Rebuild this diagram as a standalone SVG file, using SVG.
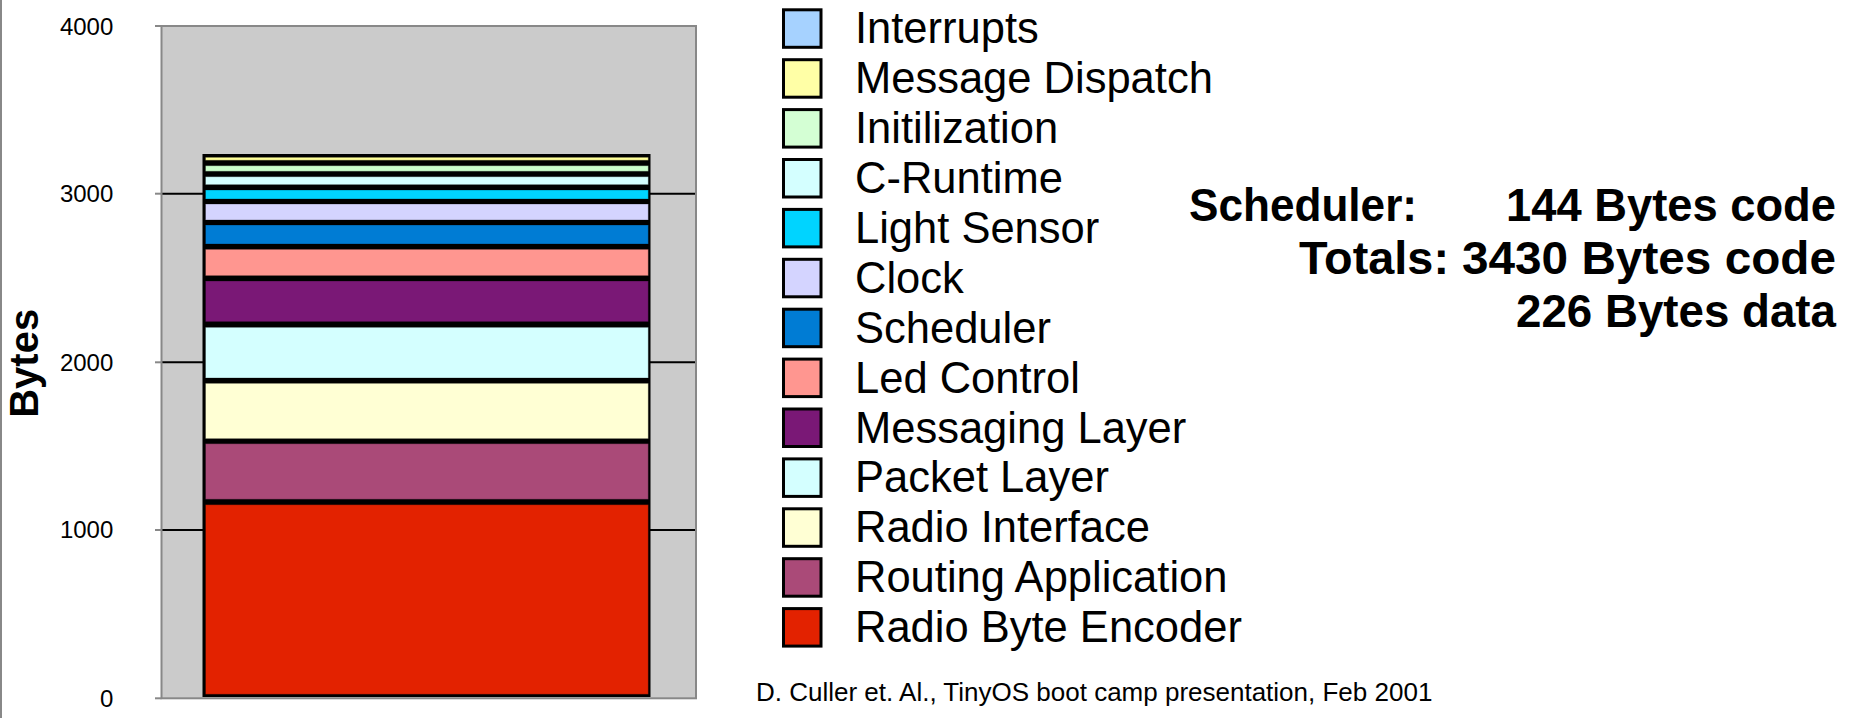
<svg xmlns="http://www.w3.org/2000/svg" width="1868" height="718" viewBox="0 0 1868 718">
  <style>
    .axis { stroke: #888888; stroke-width: 2; fill: none; }
    .grid { stroke: #000000; stroke-width: 2; }
    .tick { font-family: "Liberation Sans", Arial, sans-serif; font-size: 24px; fill: #000; text-anchor: end; }
    .ytitle { font-family: "Liberation Sans", Arial, sans-serif; font-size: 40px; font-weight: bold; fill: #000; text-anchor: middle; }
    .seg { stroke: rgba(0,0,0,0.28); stroke-width: 1; }
    .key { stroke: #000; stroke-width: 3; }
    .lbl { font-family: "Liberation Sans", Arial, sans-serif; font-size: 43.5px; fill: #000; }
    .stat { font-family: "Liberation Sans", Arial, sans-serif; font-size: 46px; font-weight: bold; fill: #000; }
    .note { font-family: "Liberation Sans", Arial, sans-serif; font-size: 26px; fill: #000; }
  </style>

  <rect width="1868" height="718" fill="#ffffff"/>
  <!-- left page edge -->
  <line x1="1" y1="0" x2="1" y2="718" class="axis" stroke-width="1.5"/>

  <!-- plot area -->
  <g id="plot">
    <rect x="161.5" y="26" width="534.5" height="672.3" fill="#cbcbcb"/>
    <line x1="161.5" y1="530" x2="696" y2="530" class="grid"/>
    <line x1="161.5" y1="362.3" x2="696" y2="362.3" class="grid"/>
    <line x1="161.5" y1="193.7" x2="696" y2="193.7" class="grid"/>
    <rect x="161.5" y="26" width="534.5" height="672.3" class="axis"/>
    <g class="axis">
      <line x1="155" y1="26" x2="161.5" y2="26"/>
      <line x1="155" y1="193.7" x2="161.5" y2="193.7"/>
      <line x1="155" y1="362.3" x2="161.5" y2="362.3"/>
      <line x1="155" y1="530" x2="161.5" y2="530"/>
      <line x1="155" y1="698.3" x2="161.5" y2="698.3"/>
    </g>
    <text class="tick" x="113.3" y="34.5">4000</text>
    <text class="tick" x="113.3" y="202.3">3000</text>
    <text class="tick" x="113.3" y="370.6">2000</text>
    <text class="tick" x="113.3" y="538.4">1000</text>
    <text class="tick" x="113.3" y="706.7">0</text>
    <text class="ytitle" transform="translate(37.5,363.3) rotate(-90)">Bytes</text>
  </g>

  <!-- stacked bar -->
  <g id="bar">
    <rect x="202.5" y="154" width="448" height="543" fill="#000000"/>
    <rect class="seg" x="205.5" y="157.3" width="442.8" height="3" fill="#ffff99"/>
    <rect class="seg" x="205.5" y="165.7" width="442.8" height="5.6" fill="#ccffcc"/>
    <rect class="seg" x="205.5" y="176.7" width="442.8" height="8" fill="#d4ffff"/>
    <rect class="seg" x="205.5" y="190" width="442.8" height="9" fill="#00d4ff"/>
    <rect class="seg" x="205.5" y="204" width="442.8" height="16" fill="#d4d4ff"/>
    <rect class="seg" x="205.5" y="225" width="442.8" height="19" fill="#007cd4"/>
    <rect class="seg" x="205.5" y="249.3" width="442.8" height="26.4" fill="#ff9690"/>
    <rect class="seg" x="205.5" y="281" width="442.8" height="40.7" fill="#7a1876"/>
    <rect class="seg" x="205.5" y="327.3" width="442.8" height="50.7" fill="#d4ffff"/>
    <rect class="seg" x="205.5" y="383.3" width="442.8" height="55.4" fill="#ffffd4"/>
    <rect class="seg" x="205.5" y="443.7" width="442.8" height="55.6" fill="#aa4a78"/>
    <rect class="seg" x="205.5" y="504.7" width="442.8" height="189.6" fill="#e32200"/>
  </g>

  <!-- legend -->
  <g id="legend">
    <g id="key-interrupts"><rect class="key" x="783.5" y="9.8" width="37.5" height="37.5" fill="#a6d2ff"/><text class="lbl" x="855" y="43.3">Interrupts</text></g>
    <g id="key-dispatch"><rect class="key" x="783.5" y="59.7" width="37.5" height="37.5" fill="#ffffa6"/><text class="lbl" x="855" y="93.2">Message Dispatch</text></g>
    <g id="key-init"><rect class="key" x="783.5" y="109.6" width="37.5" height="37.5" fill="#d4ffd4"/><text class="lbl" x="855" y="143.1">Initilization</text></g>
    <g id="key-cruntime"><rect class="key" x="783.5" y="159.5" width="37.5" height="37.5" fill="#d4ffff"/><text class="lbl" x="855" y="193">C-Runtime</text></g>
    <g id="key-light"><rect class="key" x="783.5" y="209.4" width="37.5" height="37.5" fill="#00d4ff"/><text class="lbl" x="855" y="242.9">Light Sensor</text></g>
    <g id="key-clock"><rect class="key" x="783.5" y="259.3" width="37.5" height="37.5" fill="#d4d4ff"/><text class="lbl" x="855" y="292.8">Clock</text></g>
    <g id="key-scheduler"><rect class="key" x="783.5" y="309.2" width="37.5" height="37.5" fill="#007cd4"/><text class="lbl" x="855" y="342.7">Scheduler</text></g>
    <g id="key-led"><rect class="key" x="783.5" y="359.1" width="37.5" height="37.5" fill="#ff9690"/><text class="lbl" x="855" y="392.6">Led Control</text></g>
    <g id="key-messaging"><rect class="key" x="783.5" y="409" width="37.5" height="37.5" fill="#7a1876"/><text class="lbl" x="855" y="442.5">Messaging Layer</text></g>
    <g id="key-packet"><rect class="key" x="783.5" y="458.9" width="37.5" height="37.5" fill="#d4ffff"/><text class="lbl" x="855" y="492.4">Packet Layer</text></g>
    <g id="key-radioif"><rect class="key" x="783.5" y="508.8" width="37.5" height="37.5" fill="#ffffd4"/><text class="lbl" x="855" y="542.3">Radio Interface</text></g>
    <g id="key-routing"><rect class="key" x="783.5" y="558.7" width="37.5" height="37.5" fill="#aa4a78"/><text class="lbl" x="855" y="592.2">Routing Application</text></g>
    <g id="key-encoder"><rect class="key" x="783.5" y="608.6" width="37.5" height="37.5" fill="#e32200"/><text class="lbl" x="855" y="642.1">Radio Byte Encoder</text></g>
  </g>

  <!-- code size summary -->
  <g id="summary">
    <text class="stat" x="1189" y="221" textLength="228" lengthAdjust="spacingAndGlyphs">Scheduler:</text>
    <text class="stat" x="1506" y="221" textLength="330" lengthAdjust="spacingAndGlyphs">144 Bytes code</text>
    <text class="stat" x="1299" y="274" textLength="150" lengthAdjust="spacingAndGlyphs">Totals:</text>
    <text class="stat" x="1462" y="274" textLength="374" lengthAdjust="spacingAndGlyphs">3430 Bytes code</text>
    <text class="stat" x="1516" y="327" textLength="320" lengthAdjust="spacingAndGlyphs">226 Bytes data</text>
  </g>

  <!-- source note -->
  <g id="source">
    <text class="note" x="756" y="701">D. Culler et. Al., TinyOS boot camp presentation, Feb 2001</text>
  </g>
</svg>
